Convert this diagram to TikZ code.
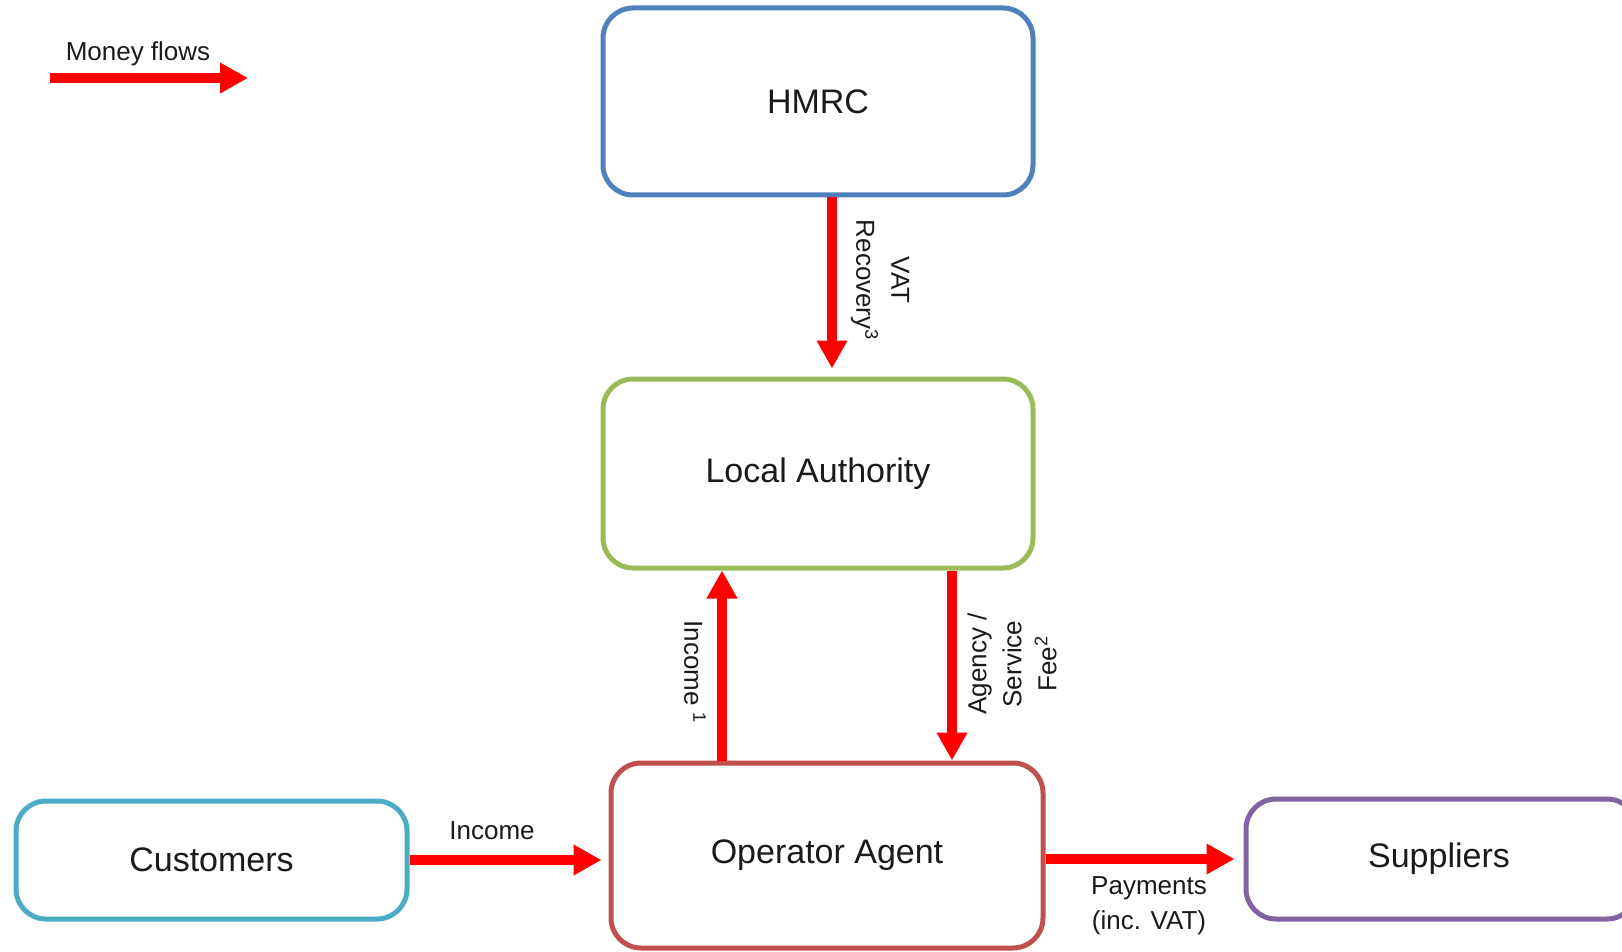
\documentclass[tikz,border=0pt]{standalone}
\usepackage{fontspec}
\setmainfont{Liberation Sans}
\usetikzlibrary{arrows.meta}
\definecolor{hmrcblue}{HTML}{4F81BD}
\definecolor{lagreen}{HTML}{9BBB59}
\definecolor{opred}{HTML}{C0504D}
\definecolor{custcyan}{HTML}{4BACC6}
\definecolor{suppurple}{HTML}{8064A2}
\definecolor{txt}{HTML}{1A1A1A}
\tikzset{
  box/.style={draw, line width=5pt, rounded corners=30pt, fill=white,
    text=txt, font=\fontsize{34}{40}\selectfont, inner sep=0pt},
  money/.style={draw=red, line width=10pt,
    -{Triangle[width=29pt,length=28pt]}},
  lab/.style={text=txt, font=\fontsize{26}{35}\selectfont, align=center, inner sep=0pt}
}
\begin{document}
\begin{tikzpicture}[x=1pt,y=-1pt]
\clip (0,0) rectangle (1622,952);
\fill[white] (0,0) rectangle (1622,952);
% boxes
\node[box, draw=hmrcblue, minimum width=430pt, minimum height=187pt] (hmrc) at (818,101.5) {HMRC};
\node[box, draw=lagreen, minimum width=430pt, minimum height=189pt] (la) at (818,473.5) {Local Authority};
\node[box, draw=opred, minimum width=432pt, minimum height=185pt] (op) at (827,855.5) {Operator Agent};
\node[box, draw=custcyan, minimum width=391pt, minimum height=118pt] (cust) at (211.5,860) {Customers};
\node[box, draw=suppurple, minimum width=391pt, minimum height=120pt] (sup) at (1441.5,859) {};
\node[text=txt, font=\fontsize{34}{40}\selectfont, inner sep=0pt] (suptext) at (1439,859) {Suppliers};
% arrows
\draw[money, shorten >=8pt] ([xshift=14pt]hmrc.south) -- ([xshift=14pt]la.north);
\draw[money] ([xshift=-105pt]op.north) -- ([xshift=-105pt]op.north |- la.south);
\draw[money] ([xshift=125pt]op.north |- la.south) -- ([xshift=125pt]op.north);
\draw[money, shorten >=7pt] (cust.east) -- (op.west |- cust.east);
\draw[money, shorten >=9pt] (op.east |- sup.west) -- (sup.west);
% legend
\coordinate (lgA) at (50,78);
\coordinate (lgB) at (248,78);
\draw[money] (lgA) -- (lgB);
\node[lab] (lgtext) at (138,54) {Money flows};
% labels
\node[lab, rotate=-90] (vatlab) at (880,280) {VAT\\Recovery\textsuperscript{3}};
\node[lab, rotate=-90] (inclab) at (695,672) {Income \textsuperscript{1}};
\node[lab, rotate=90] (feelab) at (1012,664) {Agency /\\Service\\Fee\textsuperscript{2}};
\node[lab] (incomelab) at (492,831) {Income};
\node[lab] (paylab) at (1149,906) {Payments\\(inc. VAT)};
\end{tikzpicture}
\end{document}
